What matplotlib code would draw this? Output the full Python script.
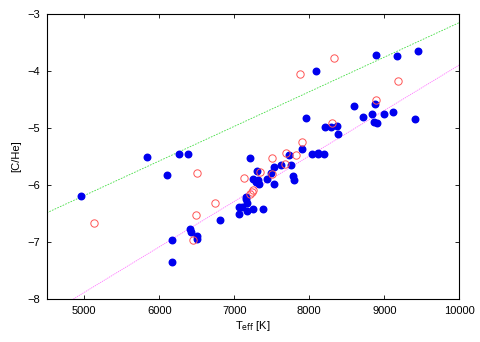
import numpy as np
import matplotlib
matplotlib.use('Agg')
import matplotlib.pyplot as plt

plt.rcParams['font.family'] = ['Liberation Sans', 'DejaVu Sans']

# filled blue points
teff_blue = [4957, 5841, 6104, 6268, 6380, 6171, 6171, 6411, 6424, 6500, 6508, 6811,
             7060, 7068, 7153, 7161, 7167, 7100, 7167, 7255, 7388, 7211, 7255, 7291,
             7322, 7309, 7335, 7433, 7491, 7531, 7531, 7624, 7735, 7755, 7788, 7801,
             7900, 7957, 8041, 8113, 8121, 8201, 8211, 8287, 8367, 8388, 8601, 8087,
             8887, 9175, 9451, 8713, 8833, 8877, 8864, 8900, 8997, 9121, 9406]
che_blue = [-6.19, -5.50, -5.82, -5.46, -5.46, -6.97, -7.35, -6.78, -6.83, -6.89, -6.94, -6.62,
            -6.50, -6.38, -6.21, -6.25, -6.31, -6.38, -6.45, -6.42, -6.42, -5.52, -5.90, -5.94,
            -5.91, -5.75, -5.98, -5.90, -5.79, -5.68, -5.99, -5.65, -5.47, -5.65, -5.84, -5.91,
            -5.36, -4.83, -5.46, -5.43, -5.46, -5.46, -4.99, -4.98, -4.96, -5.11, -4.61, -4.00,
            -3.72, -3.73, -3.65, -4.81, -4.75, -4.57, -4.89, -4.91, -4.75, -4.72, -4.85]

# open red circles
teff_red = [5135, 6500, 6491, 6447, 6748, 7135, 7211, 7241, 7255, 7344, 7508,
            7508, 7677, 7691, 7820, 7900, 8300, 7881, 8335, 9180, 8891]
che_red = [-6.66, -5.79, -6.53, -6.97, -6.31, -5.87, -6.16, -6.13, -6.08, -5.77, -5.53,
           -5.81, -5.63, -5.43, -5.48, -5.24, -4.91, -4.06, -3.77, -4.18, -4.51]

# linear relations [C/He] = a + b*Teff
green_a, green_b = -9.22, 6.07e-4
pink_a, pink_b = -11.874, 7.98e-4

fig = plt.figure(figsize=(4.8, 3.42), dpi=100)
ax = fig.add_axes([0.0973, 0.1257, 0.8596, 0.8333])

t = np.array([4500, 10000])
ax.plot(t, green_a + green_b*t, color='#44dd44', lw=0.6, dashes=(2, 1.5))
ax.plot(t, pink_a + pink_b*t, color='#ff77ff', lw=0.6, dashes=(1.5, 1))

ax.plot(teff_blue, che_blue, 'o', color='#0000ee', ms=4.7, mec='#0000ee', zorder=3)
ax.plot(teff_red, che_red, 'o', mfc='none', mec='#ff5555', ms=5.3, mew=0.7, zorder=4)

ax.set_xlim(4500, 10000)
ax.set_ylim(-8, -3)
ax.set_xticks([5000, 6000, 7000, 8000, 9000, 10000])
ax.set_yticks([-8, -7, -6, -5, -4, -3])
ax.tick_params(direction='in', top=True, right=True, length=3, width=0.6, labelsize=8, pad=5)
for s in ax.spines.values():
    s.set_linewidth(0.8)
ax.set_xlabel(r'T$_{\rm eff}$ [K]', fontsize=8, labelpad=2)
ax.set_ylabel('[C/He]', fontsize=8, labelpad=4)

fig.savefig('out.png', dpi=100)
